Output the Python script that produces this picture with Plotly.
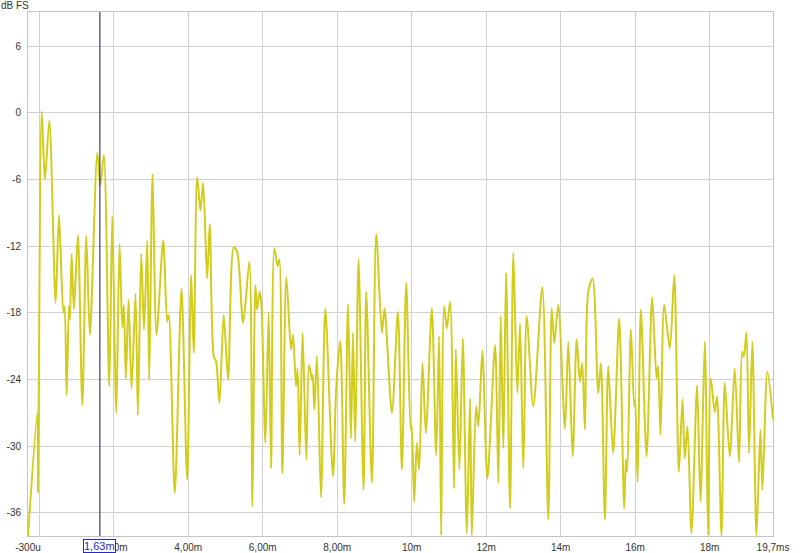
import plotly.graph_objects as go

# time in ms, level in dB FS (local peaks and dips)
time_ms = [
    -0.3, -0.048, -0.032, 0.067, 0.155, 0.273, 0.442, 0.531, 0.649, 0.684,
    0.737, 0.799, 0.826, 0.871, 0.933, 1.040, 1.158, 1.265, 1.362, 1.560,
    1.641, 1.737, 1.882, 1.962, 2.070, 2.158, 2.231, 2.273, 2.327, 2.399,
    2.480, 2.587, 2.649, 2.740, 2.815, 2.901, 2.954, 3.043, 3.150, 3.330,
    3.437, 3.480, 3.641, 3.820, 3.973, 4.080, 4.150, 4.241, 4.330, 4.402,
    4.509, 4.579, 4.686, 4.751, 4.839, 4.954, 5.072, 5.223, 5.314, 5.475,
    5.643, 5.724, 5.804, 5.850, 5.920, 5.965, 6.072, 6.161, 6.225, 6.314,
    6.402, 6.448, 6.528, 6.635, 6.761, 6.815, 6.895, 6.938, 6.992, 7.072,
    7.172, 7.244, 7.324, 7.346, 7.386, 7.458, 7.566, 7.681, 7.887, 7.976,
    8.083, 8.190, 8.290, 8.370, 8.424, 8.485, 8.574, 8.708, 8.780, 8.933,
    9.048, 9.201, 9.271, 9.469, 9.630, 9.737, 9.853, 9.973, 10.000, 10.067,
    10.139, 10.201, 10.290, 10.381, 10.542, 10.657, 10.737, 10.791, 10.871, 10.944,
    11.032, 11.139, 11.185, 11.282, 11.373, 11.480, 11.568, 11.614, 11.729, 11.791,
    11.898, 12.032, 12.239, 12.327, 12.391, 12.461, 12.534, 12.641, 12.729, 12.836,
    12.909, 12.997, 13.088, 13.265, 13.507, 13.668, 13.759, 13.829, 13.936, 14.115,
    14.204, 14.322, 14.429, 14.517, 14.579, 14.651, 14.740, 14.858, 15.008, 15.080,
    15.188, 15.276, 15.410, 15.571, 15.705, 15.751, 15.786, 15.885, 15.973, 16.000,
    16.064, 16.153, 16.306, 16.456, 16.574, 16.617, 16.681, 16.778, 16.930, 17.050,
    17.172, 17.271, 17.332, 17.405, 17.512, 17.662, 17.753, 17.869, 17.957, 18.029,
    18.137, 18.198, 18.316, 18.405, 18.539, 18.673, 18.788, 18.869, 18.914, 18.987,
    19.056, 19.147, 19.255, 19.362, 19.416, 19.550, 19.700,
]
level_db = [
    -38.1, -27.0, -34.2, 0.1, -6.0, -0.7, -17.1, -9.2, -18.0, -17.4,
    -25.4, -17.4, -18.6, -12.7, -17.7, -11.0, -26.3, -11.1, -20.0, -3.6,
    -6.5, -3.8, -24.6, -9.3, -27.0, -11.8, -19.3, -17.3, -23.9, -16.8,
    -24.8, -16.3, -27.2, -12.7, -19.5, -11.5, -24.0, -5.5, -20.0, -11.5,
    -18.8, -18.2, -34.2, -15.8, -33.0, -14.6, -21.6, -5.8, -8.8, -6.3,
    -14.9, -10.0, -21.9, -22.4, -26.1, -18.2, -24.0, -12.1, -12.5, -18.9,
    -13.4, -35.4, -15.5, -17.7, -16.1, -17.1, -29.7, -18.0, -32.0, -12.2,
    -13.8, -13.2, -32.4, -14.8, -21.3, -20.0, -24.6, -23.0, -30.8, -19.8,
    -31.2, -22.7, -24.0, -23.6, -26.7, -21.9, -34.6, -17.6, -32.7, -24.6,
    -20.5, -35.2, -17.2, -29.3, -19.8, -29.6, -13.2, -33.9, -16.1, -33.3,
    -10.9, -19.8, -17.6, -27.0, -17.9, -32.1, -15.3, -28.5, -28.1, -35.0,
    -29.7, -32.1, -22.5, -28.8, -17.6, -30.8, -20.1, -38.0, -17.4, -19.4,
    -17.0, -33.8, -21.3, -32.1, -20.3, -37.8, -25.7, -38.0, -26.4, -28.2,
    -21.4, -32.9, -20.9, -33.3, -18.3, -30.2, -14.4, -35.6, -12.6, -25.2,
    -19.0, -32.0, -18.3, -26.4, -15.7, -36.6, -17.6, -20.7, -17.3, -28.4,
    -20.6, -30.9, -20.4, -24.2, -22.5, -28.5, -16.1, -14.9, -25.2, -22.5,
    -36.6, -22.8, -30.6, -18.5, -35.6, -31.2, -32.3, -19.5, -26.4, -25.8,
    -33.2, -17.7, -30.9, -16.6, -23.9, -22.8, -29.0, -17.3, -21.2, -14.6,
    -32.3, -25.8, -31.1, -28.2, -37.8, -24.5, -35.0, -20.6, -38.0, -23.9,
    -26.9, -25.5, -38.0, -24.3, -30.9, -23.0, -31.5, -21.5, -22.0, -19.8,
    -30.6, -20.6, -38.0, -28.5, -33.9, -23.3, -27.6,
]

x_tick_vals = [-0.3, 0, 2, 4, 6, 8, 10, 12, 14, 16, 18, 19.7]
x_tick_text = ["-300u", "", "2,00m", "4,00m", "6,00m", "8,00m", "10m", "12m",
               "14m", "16m", "18m", "19,7ms"]
y_tick_vals = [6, 0, -6, -12, -18, -24, -30, -36]
y_tick_text = ["6", "0", "-6", "-12", "-18", "-24", "-30", "-36"]

cursor_ms = 1.63
cursor_label = "1,63m"
y_title = "dB FS"

fig = go.Figure()
fig.add_trace(go.Scatter(
    x=time_ms, y=level_db, mode="lines",
    line=dict(color="#d2cd1c", width=2, shape="spline", smoothing=0.8),
    hoverinfo="skip", showlegend=False,
))

fig.add_shape(type="line", x0=cursor_ms, x1=cursor_ms, xref="x",
              y0=0, y1=1, yref="paper",
              line=dict(color="#14145e", width=1))

fig.add_annotation(x=cursor_ms, y=0, xref="x", yref="paper",
                   yanchor="top", yshift=-3, text=cursor_label, showarrow=False,
                   font=dict(family="Liberation Sans, Arial", size=11, color="#2828c8"),
                   bgcolor="white", bordercolor="#2828c8", borderwidth=1, borderpad=0)

fig.add_annotation(x=0, y=1, xref="paper", yref="paper", xanchor="right",
                   yanchor="bottom", xshift=3, yshift=-1, text=y_title,
                   showarrow=False,
                   font=dict(family="Liberation Sans, Arial", size=10, color="#333333"))

fig.update_layout(
    width=800, height=553,
    margin=dict(l=28, r=27, t=12, b=17),
    paper_bgcolor="white", plot_bgcolor="white",
    font=dict(family="Liberation Sans, Arial", size=10, color="#333333"),
)
fig.update_xaxes(range=[-0.3, 19.7], tickvals=x_tick_vals, ticktext=x_tick_text,
                 showgrid=True, gridcolor="#d2d2d2", gridwidth=1,
                 showline=True, linecolor="#c4c4c4", mirror=True,
                 zeroline=False, ticks="", ticklabelstandoff=2, automargin=False)
fig.update_yaxes(range=[-38.07, 9.06], tickvals=y_tick_vals, ticktext=y_tick_text,
                 showgrid=True, gridcolor="#d2d2d2", gridwidth=1,
                 showline=True, linecolor="#c4c4c4", mirror=True,
                 zeroline=False, ticks="", ticklabelstandoff=4, automargin=False)

fig.write_html("out.html", config={"displayModeBar": False},
               post_script="document.body.style.margin='0';document.body.style.overflow='hidden';")
